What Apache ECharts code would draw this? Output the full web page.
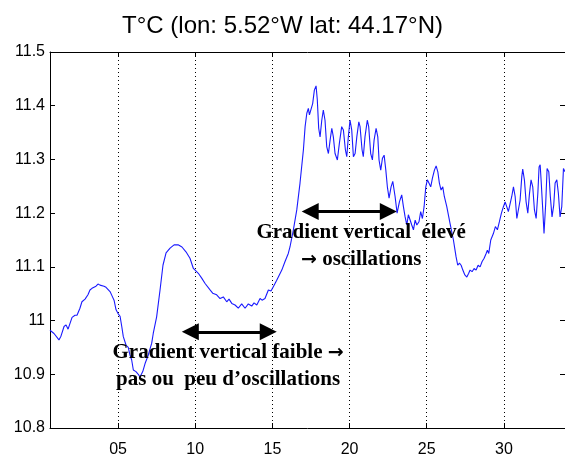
<!DOCTYPE html>
<html>
<head>
<meta charset="utf-8">
<title>T°C (lon: 5.52°W lat: 44.17°N)</title>
<script src="https://cdn.jsdelivr.net/npm/echarts@6/dist/echarts.min.js"></script>
<style>
  html, body { margin: 0; padding: 0; background: #fff; }
  #chart { width: 565px; height: 464px; }
</style>
</head>
<body>
<div id="chart"></div>
<script>
// Time axis (days) and temperature (°C) of the record
const days = [
  0.59, 0.85, 1.17, 1.30, 1.50, 1.63, 1.76, 2.02, 2.21, 2.34,
  2.53, 2.66, 2.86, 3.05, 3.18, 3.31, 3.57, 3.70, 3.83, 4.09,
  4.22, 4.48, 4.61, 4.74, 4.87, 5.00, 5.13, 5.24, 5.34, 5.52,
  5.66, 5.77, 5.88, 5.99, 6.16, 6.31, 6.42, 6.60, 6.75, 6.96,
  7.18, 7.28, 7.50, 7.72, 7.91, 8.11, 8.37, 8.63, 8.89, 9.14,
  9.40, 9.66, 9.88, 10.20, 10.42, 10.64, 10.96, 11.13, 11.39, 11.61,
  11.82, 12.04, 12.19, 12.37, 12.58, 12.79, 13.01, 13.23, 13.44, 13.66,
  13.81, 13.99, 14.20, 14.33, 14.52, 14.74, 14.91, 15.06, 15.28, 15.61,
  15.82, 16.03, 16.14, 16.36, 16.58, 16.79, 17.01, 17.12, 17.23, 17.33,
  17.40, 17.50, 17.61, 17.72, 17.83, 17.91, 18.00, 18.09, 18.20, 18.30,
  18.41, 18.52, 18.63, 18.74, 18.85, 18.95, 19.06, 19.21, 19.34, 19.49,
  19.60, 19.73, 19.82, 19.92, 20.03, 20.14, 20.25, 20.36, 20.47, 20.60,
  20.68, 20.81, 20.89, 21.00, 21.15, 21.24, 21.37, 21.48, 21.59, 21.72,
  21.83, 21.91, 22.02, 22.13, 22.24, 22.35, 22.45, 22.56, 22.69, 22.80,
  22.95, 23.08, 23.23, 23.38, 23.49, 23.60, 23.71, 23.81, 23.92, 24.03,
  24.14, 24.25, 24.36, 24.50, 24.61, 24.72, 24.83, 24.94, 25.04, 25.15,
  25.26, 25.37, 25.50, 25.61, 25.72, 25.82, 25.93, 26.04, 26.14, 26.30,
  26.51, 26.73, 26.90, 27.01, 27.12, 27.23, 27.34, 27.47, 27.60, 27.72,
  27.81, 27.94, 28.07, 28.20, 28.33, 28.46, 28.59, 28.72, 28.85, 28.93,
  29.02, 29.15, 29.32, 29.45, 29.58, 29.71, 29.84, 29.97, 30.08, 30.19,
  30.29, 30.40, 30.51, 30.62, 30.73, 30.84, 30.94, 31.05, 31.16, 31.22,
  31.33, 31.44, 31.55, 31.65, 31.76, 31.87, 31.98, 32.09, 32.20, 32.28,
  32.35, 32.41, 32.52, 32.60, 32.71, 32.80, 32.91, 33.01, 33.12, 33.23,
  33.32, 33.43, 33.53, 33.64, 33.75, 33.86, 33.96
];
const temps = [
  10.982, 10.976, 10.964, 10.971, 10.989, 10.992, 10.984, 11.006, 11.010, 11.010,
  11.023, 11.035, 11.040, 11.048, 11.057, 11.060, 11.064, 11.068, 11.066, 11.064,
  11.062, 11.054, 11.046, 11.038, 11.020, 11.013, 11.008, 10.989, 10.970, 10.954,
  10.950, 10.936, 10.927, 10.908, 10.905, 10.900, 10.895, 10.905, 10.920, 10.936,
  10.958, 10.976, 11.007, 11.057, 11.103, 11.126, 11.135, 11.141, 11.141, 11.137,
  11.128, 11.116, 11.097, 11.088, 11.079, 11.069, 11.057, 11.051, 11.048, 11.041,
  11.044, 11.035, 11.040, 11.032, 11.029, 11.023, 11.031, 11.023, 11.031, 11.027,
  11.033, 11.029, 11.041, 11.038, 11.041, 11.057, 11.055, 11.063, 11.075, 11.094,
  11.110, 11.125, 11.137, 11.169, 11.206, 11.256, 11.318, 11.361, 11.386, 11.395,
  11.383, 11.383, 11.404, 11.429, 11.437, 11.411, 11.358, 11.342, 11.373, 11.392,
  11.373, 11.324, 11.311, 11.336, 11.358, 11.342, 11.311, 11.299, 11.330, 11.361,
  11.355, 11.318, 11.305, 11.342, 11.373, 11.355, 11.305, 11.311, 11.342, 11.370,
  11.361, 11.318, 11.305, 11.342, 11.373, 11.361, 11.311, 11.299, 11.336, 11.358,
  11.342, 11.299, 11.280, 11.302, 11.308, 11.280, 11.249, 11.228, 11.249, 11.259,
  11.231, 11.200, 11.221, 11.234, 11.212, 11.193, 11.178, 11.197, 11.200, 11.178,
  11.169, 11.187, 11.178, 11.184, 11.203, 11.190, 11.212, 11.249, 11.262, 11.265,
  11.249, 11.265, 11.280, 11.288, 11.277, 11.256, 11.243, 11.249, 11.231, 11.212,
  11.181, 11.150, 11.119, 11.103, 11.107, 11.103, 11.094, 11.085, 11.081, 11.088,
  11.094, 11.091, 11.097, 11.094, 11.103, 11.100, 11.110, 11.116, 11.125, 11.131,
  11.125, 11.150, 11.162, 11.175, 11.169, 11.184, 11.200, 11.212, 11.221, 11.221,
  11.203, 11.206, 11.231, 11.249, 11.231, 11.190, 11.187, 11.224, 11.268, 11.282,
  11.262, 11.221, 11.200, 11.234, 11.262, 11.249, 11.206, 11.190, 11.237, 11.286,
  11.290, 11.262, 11.206, 11.162, 11.218, 11.283, 11.277, 11.231, 11.193, 11.215,
  11.256, 11.262, 11.237, 11.193, 11.212, 11.283, 11.277
];

// Axis extents and ticks
const dayMin = 0.59, dayMax = 33.96;
const xTickDays = [5, 10, 15, 20, 25, 30];
const tempMin = 10.8, tempMax = 11.5, tempStep = 0.1;

// Annotations: double arrows [dayFrom, dayTo, temp] and text blocks [day, temp, text]
const arrows = [
  [9.68, 14.73, 10.979],
  [17.45, 22.51, 11.203]
];
const notes = [
  [12.13, 10.915, 'Gradient vertical faible {arr|\u2192}\npas ou  peu d\u2019oscillations'],
  [20.75, 11.138, 'Gradient vertical  \u00e9lev\u00e9\n{arr|\u2192} oscillations']
];

const chart = echarts.init(document.getElementById('chart'), null, { renderer: 'canvas' });

const sansFont = '"Liberation Sans", Arial, Helvetica, sans-serif';
const serifFont = '"Liberation Serif", "Times New Roman", serif';

const tickStyle = { color: '#000', width: 1 };

function xAxisBase(position, showLabels) {
  return {
    type: 'value',
    position: position,
    min: dayMin,
    max: dayMax,
    axisLine: { show: true, onZero: false, lineStyle: { color: '#000', width: 1 } },
    axisTick: { show: true, inside: true, length: 5, customValues: xTickDays, lineStyle: tickStyle },
    axisLabel: {
      show: showLabels,
      customValues: xTickDays,
      margin: 14,
      color: '#000',
      fontFamily: sansFont,
      fontSize: 16,
      formatter: v => (v < 10 ? '0' + v : String(v))
    },
    splitLine: showLabels
      ? { show: true, lineStyle: { color: '#000', width: 1, type: [1, 3] } }
      : { show: false }
  };
}

function yAxisBase(position, showLabels) {
  return {
    type: 'value',
    position: position,
    min: tempMin,
    max: tempMax,
    interval: tempStep,
    axisLine: { show: true, onZero: false, lineStyle: { color: '#000', width: 1 } },
    axisTick: { show: true, inside: true, length: 5, lineStyle: tickStyle },
    axisLabel: {
      show: showLabels,
      margin: 5,
      color: '#000',
      fontFamily: sansFont,
      fontSize: 16,
      formatter: v => (Math.abs(v - 11) < 1e-9 ? '11' : v.toFixed(1))
    },
    splitLine: { show: false }
  };
}

chart.setOption({
  animation: false,
  backgroundColor: '#fff',
  title: {
    text: 'T°C (lon: 5.52°W lat: 44.17°N)',
    left: 'center',
    top: 9,
    textStyle: { fontFamily: sansFont, fontSize: 24, fontWeight: 'normal', color: '#000' }
  },
  grid: { left: 50, right: 0, top: 52, bottom: 36, containLabel: false },
  xAxis: [xAxisBase('bottom', true), xAxisBase('top', false)],
  yAxis: [yAxisBase('left', true), yAxisBase('right', false)],
  series: [
    {
      type: 'line',
      data: days.map((d, i) => [d, temps[i]]),
      showSymbol: false,
      symbol: 'none',
      lineStyle: { color: '#1a1aff', width: 1.1 },
      clip: true,
      markLine: {
        silent: true,
        symbol: ['triangle', 'triangle'],
        symbolSize: 17,
        label: { show: false },
        lineStyle: { color: '#000', width: 3, type: 'solid' },
        data: arrows.map(a => [{ coord: [a[0], a[2]] }, { coord: [a[1], a[2]] }])
      },
      markPoint: {
        silent: true,
        symbol: 'circle',
        symbolSize: 0,
        itemStyle: { color: 'transparent' },
        data: notes.map(n => ({
          coord: [n[0], n[1]],
          label: {
            show: true,
            position: 'inside',
            formatter: n[2],
            fontFamily: serifFont,
            fontWeight: 'bold',
            fontSize: 21,
            lineHeight: 27,
            align: 'center',
            verticalAlign: 'middle',
            color: '#000',
            rich: {
              arr: {
                fontFamily: '"DejaVu Sans", sans-serif',
                fontWeight: 'bold',
                fontSize: 19,
                lineHeight: 27,
                color: '#000'
              }
            }
          }
        }))
      }
    }
  ]
});
</script>
</body>
</html>
